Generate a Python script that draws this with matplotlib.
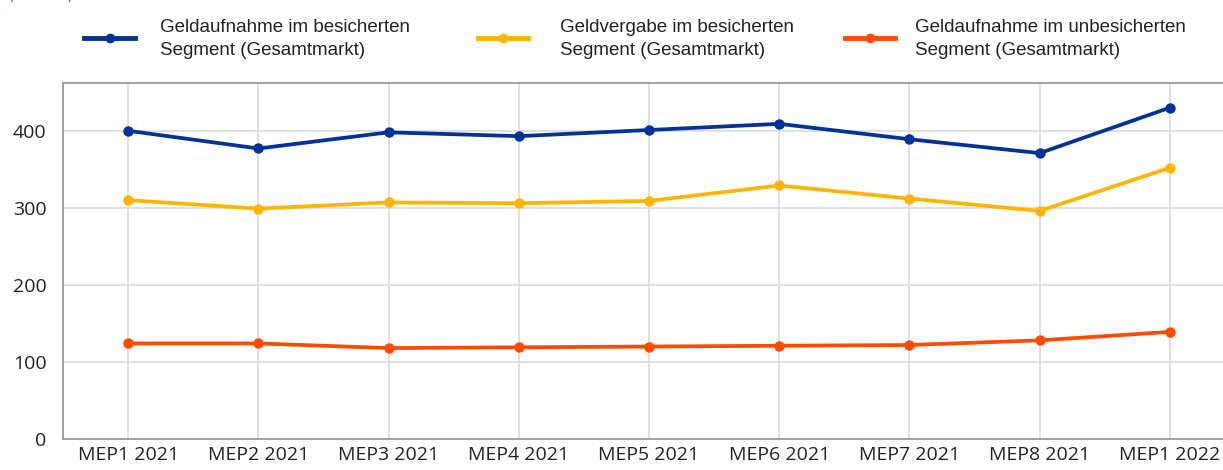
import matplotlib
matplotlib.use("Agg")
import matplotlib.pyplot as plt
from matplotlib.lines import Line2D

categories = ["MEP1 2021", "MEP2 2021", "MEP3 2021", "MEP4 2021", "MEP5 2021",
              "MEP6 2021", "MEP7 2021", "MEP8 2021", "MEP1 2022"]
secured_borrowing = [400, 377, 398, 393, 401, 409, 389, 371, 430]
secured_lending = [310, 299, 307, 306, 309, 329, 312, 296, 352]
unsecured_borrowing = [124, 124, 118, 119, 120, 121, 122, 128, 139]
series_labels = ["Geldaufnahme im besicherten\nSegment (Gesamtmarkt)",
                 "Geldvergabe im besicherten\nSegment (Gesamtmarkt)",
                 "Geldaufnahme im unbesicherten\nSegment (Gesamtmarkt)"]
yticks = [0, 100, 200, 300, 400]

colors = ["#003299", "#FFB400", "#FF4B00"]

W, H = 1223, 470
fig = plt.figure(figsize=(W / 100, H / 100), dpi=100)
ax = fig.add_axes([63 / W, (H - 439) / H, 1172 / W, (439 - 83) / H])

x = list(range(len(categories)))
for vals, c in zip([secured_borrowing, secured_lending, unsecured_borrowing], colors):
    ax.plot(x, vals, color=c, lw=2.7, marker="o", ms=6.5, solid_capstyle="round", zorder=3)

ax.set_xlim(-0.5, len(categories) - 0.5)
ax.set_ylim(0, 462)
ax.set_xticks(x)
ax.set_xticklabels(categories, fontsize=14, family="Open Sans", color="#222222")
ax.set_yticks(yticks)
ax.set_yticklabels([str(v) for v in yticks], fontsize=14, family="Open Sans", color="#222222")
ax.tick_params(length=0, pad=5)
ax.tick_params(axis="y", pad=12)
ax.grid(True, color="#dddddd", lw=1.3, zorder=0)
ax.set_axisbelow(True)
for side in ["left", "bottom", "top", "right"]:
    ax.spines[side].set_color("#9a9a9a")
    ax.spines[side].set_linewidth(1.3)

# legend (manual placement)
handles = [(84, 135, 160), (478, 528, 560), (845, 895, 915)]
for (x0, x1, tx), c, lab in zip(handles, colors, series_labels):
    yl = 1 - 38 / H
    fig.add_artist(Line2D([x0 / W, x1 / W], [yl, yl], color=c, lw=3.5,
                          transform=fig.transFigure))
    fig.add_artist(Line2D([(x0 + x1) / 2 / W], [yl], color=c, marker="o", ms=6,
                          transform=fig.transFigure))
    fig.text(tx / W, 1 - 39 / H, lab, fontsize=13.5, family="Liberation Sans",
             color="#222222", va="center", ha="left", linespacing=1.45)

fig.text(8 / W, 1.0, "(Mrd. €)", fontsize=12, color="#3a6ad4", va="baseline", ha="left")

fig.savefig("out.png", dpi=100)
